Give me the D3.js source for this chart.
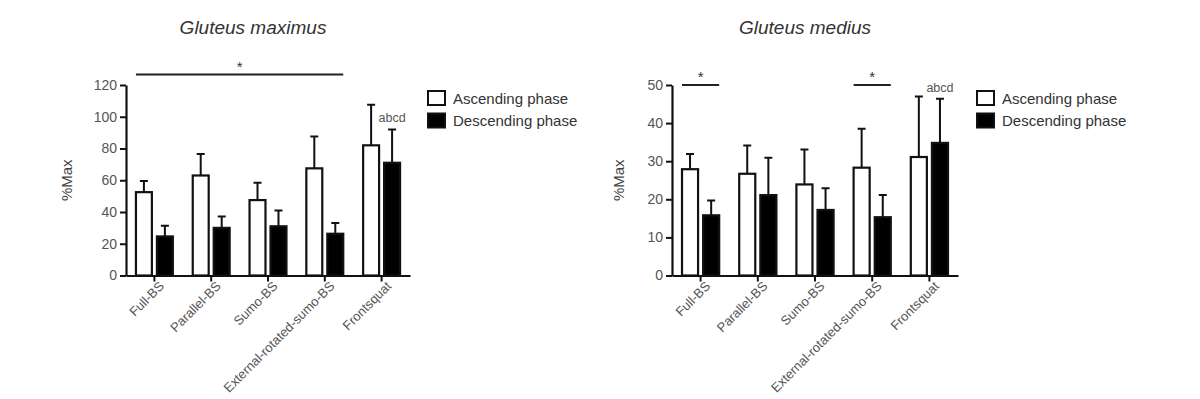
<!DOCTYPE html>
<html>
<head>
<meta charset="utf-8">
<script src="https://cdn.jsdelivr.net/npm/d3@7"></script>
<style>
  body { margin: 0; background: #fff; }
  svg { display: block; font-family: "Liberation Sans", Arial, sans-serif; }
</style>
</head>
<body>
<svg width="1200" height="399"></svg>
<script>
const categories = ["Full-BS", "Parallel-BS", "Sumo-BS", "External-rotated-sumo-BS", "Frontsquat"];
const seriesNames = ["Ascending phase", "Descending phase"];

// Gluteus maximus (%Max), mean and SD
const maxAscMean = [52.5, 63, 47.5, 67.5, 82];
const maxAscSd = [7, 13.5, 11, 20, 25.5];
const maxDescMean = [24.6, 30, 31, 26.3, 71];
const maxDescSd = [6.7, 7.2, 10, 6.7, 21];
const maxTicks = [0, 20, 40, 60, 80, 100, 120];

// Gluteus medius (%Max), mean and SD
const medAscMean = [27.9, 26.7, 23.9, 28.3, 31.1];
const medAscSd = [4, 7.4, 9.2, 10.2, 15.9];
const medDescMean = [15.8, 21.1, 17.2, 15.3, 34.8];
const medDescSd = [3.9, 9.8, 5.7, 5.8, 11.6];
const medTicks = [0, 10, 20, 30, 40, 50];

const svg = d3.select("svg");

const drawPanel = (opt) => {
  const { left, right, top, bottom, ticks, asc, ascSd, desc, descSd } = opt;

  const xScale = d3
    .scaleBand()
    .domain(categories)
    .range([left, right])
    .paddingInner(0.35)
    .paddingOuter(0.175);

  const xSub = d3
    .scaleBand()
    .domain([0, 1])
    .range([0, xScale.bandwidth()])
    .paddingInner(0.24);

  const yScale = d3
    .scaleLinear()
    .domain([0, d3.max(ticks)])
    .range([bottom, top]);

  const g = svg.append("g");

  // title
  g.append("text")
    .attr("x", opt.titleX)
    .attr("y", 34)
    .attr("text-anchor", "middle")
    .attr("font-size", 19)
    .attr("font-style", "italic")
    .attr("fill", "#333")
    .text(opt.title);

  // y label
  g.append("text")
    .attr("transform", `translate(${opt.yLabelX}, ${(top + bottom) / 2}) rotate(-90)`)
    .attr("text-anchor", "middle")
    .attr("font-size", 15)
    .attr("fill", "#444")
    .text("%Max");

  const rows = categories.map((c, i) => [
    { cat: c, k: 0, v: asc[i], sd: ascSd[i] },
    { cat: c, k: 1, v: desc[i], sd: descSd[i] },
  ]).flat();

  const barX = (d) => xScale(d.cat) + xSub(d.k);
  const barW = xSub.bandwidth();

  // error bars (upper only)
  g.selectAll(".err")
    .data(rows)
    .enter()
    .append("path")
    .attr("fill", "none")
    .attr("stroke", "#111")
    .attr("stroke-width", 2)
    .attr("d", (d) => {
      const cx = barX(d) + barW / 2;
      const y0 = yScale(d.v);
      const y1 = yScale(d.v + d.sd);
      return `M${cx},${y0}V${y1}M${cx - 4},${y1}H${cx + 4}`;
    });

  // bars
  g.selectAll(".bar")
    .data(rows)
    .enter()
    .append("rect")
    .attr("x", (d) => barX(d))
    .attr("y", (d) => yScale(d.v))
    .attr("width", barW)
    .attr("height", (d) => bottom - yScale(d.v))
    .attr("fill", (d) => (d.k === 0 ? "#fff" : "#000"))
    .attr("stroke", "#111")
    .attr("stroke-width", 2.2);

  // y axis
  const yAxisG = g
    .append("g")
    .attr("transform", `translate(${left}, 0)`)
    .call(d3.axisLeft(yScale).tickValues(ticks).tickSize(6).tickSizeOuter(0).tickPadding(3));

  // x axis
  const xAxisG = g
    .append("g")
    .attr("transform", `translate(0, ${bottom})`)
    .call(d3.axisBottom(xScale).tickSize(6).tickSizeOuter(0));

  [yAxisG, xAxisG].forEach((ax) => {
    ax.select(".domain").attr("stroke", "#111").attr("stroke-width", 2.2);
    ax.selectAll(".tick line").attr("stroke", "#111").attr("stroke-width", 2);
    ax.selectAll(".tick text").attr("fill", "#555").attr("font-family", "Liberation Sans, Arial, sans-serif");
  });
  yAxisG.selectAll(".tick text").attr("font-size", 14);

  xAxisG
    .selectAll(".tick text")
    .attr("font-size", 13)
    .attr("text-anchor", "end")
    .attr("transform", "translate(3, 4) rotate(-45)")
    .attr("dy", "0.35em")
    .attr("y", 6)
    .attr("x", 0);

  // significance bars
  opt.sig.forEach((s) => {
    const x0 = xScale(categories[s.from]);
    const x1 = xScale(categories[s.to]) + xScale.bandwidth();
    g.append("line")
      .attr("x1", x0)
      .attr("x2", x1)
      .attr("y1", s.y)
      .attr("y2", s.y)
      .attr("stroke", "#222")
      .attr("stroke-width", 2);
    g.append("text")
      .attr("x", (x0 + x1) / 2)
      .attr("y", s.y - 3)
      .attr("text-anchor", "middle")
      .attr("font-size", 15)
      .attr("fill", "#333")
      .text("*");
  });

  // abcd over frontsquat descending bar
  const last = rows[rows.length - 1];
  g.append("text")
    .attr("x", barX(last) + barW / 2)
    .attr("y", yScale(last.v + last.sd) - 7)
    .attr("text-anchor", "middle")
    .attr("font-size", 12.5)
    .attr("fill", "#555")
    .text("abcd");

  // legend
  const lg = g.append("g").attr("transform", `translate(${opt.legendX}, 91)`);
  seriesNames.forEach((name, i) => {
    lg.append("rect")
      .attr("x", 0)
      .attr("y", i * 22.5)
      .attr("width", 17)
      .attr("height", 14)
      .attr("fill", i === 0 ? "#fff" : "#000")
      .attr("stroke", "#111")
      .attr("stroke-width", 2);
    lg.append("text")
      .attr("x", 25)
      .attr("y", i * 22.5 + 12.5)
      .attr("font-size", 15)
      .attr("fill", "#333")
      .text(name);
  });
};

drawPanel({
  title: "Gluteus maximus",
  titleX: 253,
  yLabelX: 72,
  left: 126,
  right: 410,
  top: 85,
  bottom: 275.5,
  ticks: maxTicks,
  asc: maxAscMean,
  ascSd: maxAscSd,
  desc: maxDescMean,
  descSd: maxDescSd,
  sig: [{ from: 0, to: 3, y: 74.5 }],
  legendX: 428,
});

drawPanel({
  title: "Gluteus medius",
  titleX: 805,
  yLabelX: 624,
  left: 672,
  right: 958,
  top: 85,
  bottom: 275.5,
  ticks: medTicks,
  asc: medAscMean,
  ascSd: medAscSd,
  desc: medDescMean,
  descSd: medDescSd,
  sig: [
    { from: 0, to: 0, y: 85 },
    { from: 3, to: 3, y: 85 },
  ],
  legendX: 977,
});
</script>
</body>
</html>
